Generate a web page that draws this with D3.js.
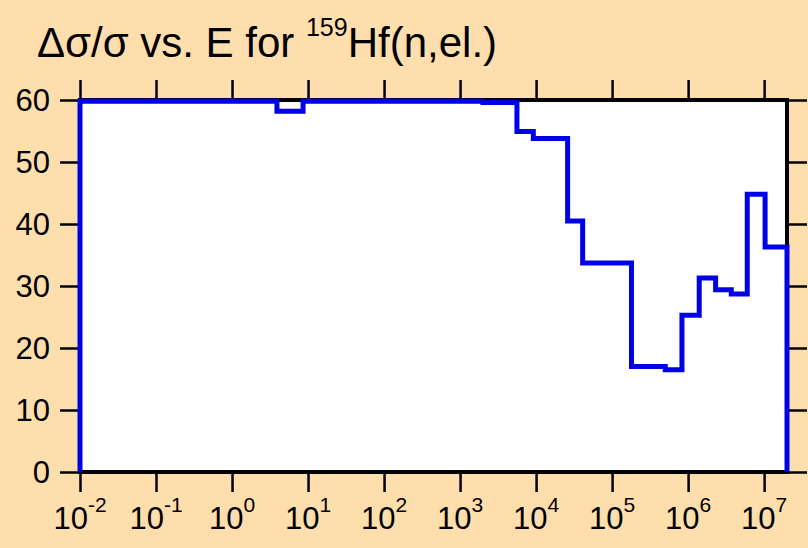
<!DOCTYPE html>
<html><head><meta charset="utf-8">
<script src="https://cdn.jsdelivr.net/npm/d3@7"></script>
<style>html,body{margin:0;padding:0;background:#FFDEAD;}svg{display:block;font-family:"Liberation Sans",Arial,sans-serif;}</style>
</head><body>
<svg id="c" width="808" height="548"></svg>
<script>
// Bin edges (eV) and relative uncertainty values (%)
const binEdges = [0.01, 3.9, 8.6, 2000, 5600, 9200, 26000, 41000, 180000, 500000, 830000, 1.4e6, 2.3e6, 3.7e6, 6e6, 1.03e7, 2e7];
const binValues = [59.8, 58.2, 59.8, 59.6, 54.9, 53.8, 40.5, 33.7, 17.0, 16.5, 25.3, 31.3, 29.4, 28.7, 44.8, 36.3];
const xTickExps = [-2, -1, 0, 1, 2, 3, 4, 5, 6, 7];
const yTicks = [0, 10, 20, 30, 40, 50, 60];

const svg = d3.select("#c");
const L = 80, R = 787, T = 100, B = 472;
const x = d3.scaleLog().domain([0.01, 2e7]).range([L, R]);
const y = d3.scaleLinear().domain([0, 60]).range([B, T]);

svg.append("rect").attr("width", 808).attr("height", 548).attr("fill", "#FFDEAD");
svg.append("rect").attr("x", L).attr("y", T).attr("width", R - L).attr("height", B - T).attr("fill", "#fff");

// Title
const title = svg.append("text").attr("x", 37).attr("y", 57).attr("font-size", 42).attr("fill", "#000");
title.append("tspan").text("Δσ/σ vs. E for ");
title.append("tspan").attr("font-size", 25).attr("dy", -21).text("159");
title.append("tspan").attr("dy", 21).text("Hf(n,el.)");

// Axes
const tickVals = xTickExps.map(e => Math.pow(10, e));
const xb = svg.append("g").attr("transform", `translate(0,${B})`)
  .call(d3.axisBottom(x).tickValues(tickVals).tickSize(20).tickFormat(""));
const xt = svg.append("g").attr("transform", `translate(0,${T})`)
  .call(d3.axisTop(x).tickValues(tickVals).tickSize(20).tickFormat(""));
const yl = svg.append("g").attr("transform", `translate(${L},0)`)
  .call(d3.axisLeft(y).tickValues(yTicks).tickSize(20).tickFormat(""));
const yr = svg.append("g").attr("transform", `translate(${R},0)`)
  .call(d3.axisRight(y).tickValues(yTicks).tickSize(20).tickFormat(""));
[xb, xt, yl, yr].forEach(g => {
  g.select(".domain").remove();
  g.selectAll(".tick line").attr("stroke", "#000").attr("stroke-width", 2.5);
});

// y labels
svg.append("g").selectAll("text").data(yTicks).join("text")
  .attr("x", 50).attr("y", d => y(d) + 11).attr("text-anchor", "end")
  .attr("font-size", 31).text(d => d);

// x labels
const xl = svg.append("g").selectAll("text").data(xTickExps).join("text")
  .attr("x", d => x(Math.pow(10, d))).attr("y", 529).attr("text-anchor", "middle").attr("font-size", 31);
xl.append("tspan").text("10");
xl.append("tspan").attr("font-size", 21).attr("dy", -17).text(d => d);

// Frame
svg.append("rect").attr("x", L).attr("y", T).attr("width", R - L).attr("height", B - T)
  .attr("fill", "none").attr("stroke", "#000").attr("stroke-width", 4);

// Step line
const pts = [[binEdges[0], 0]];
binValues.forEach((v, i) => { pts.push([binEdges[i], v]); pts.push([binEdges[i + 1], v]); });
pts.push([binEdges[binEdges.length - 1], 0]);
svg.append("path").datum(pts)
  .attr("d", d3.line().x(d => x(d[0])).y(d => y(d[1])))
  .attr("fill", "none").attr("stroke", "#0000E6").attr("stroke-width", 5).attr("stroke-linejoin", "miter");
</script>
</body></html>
